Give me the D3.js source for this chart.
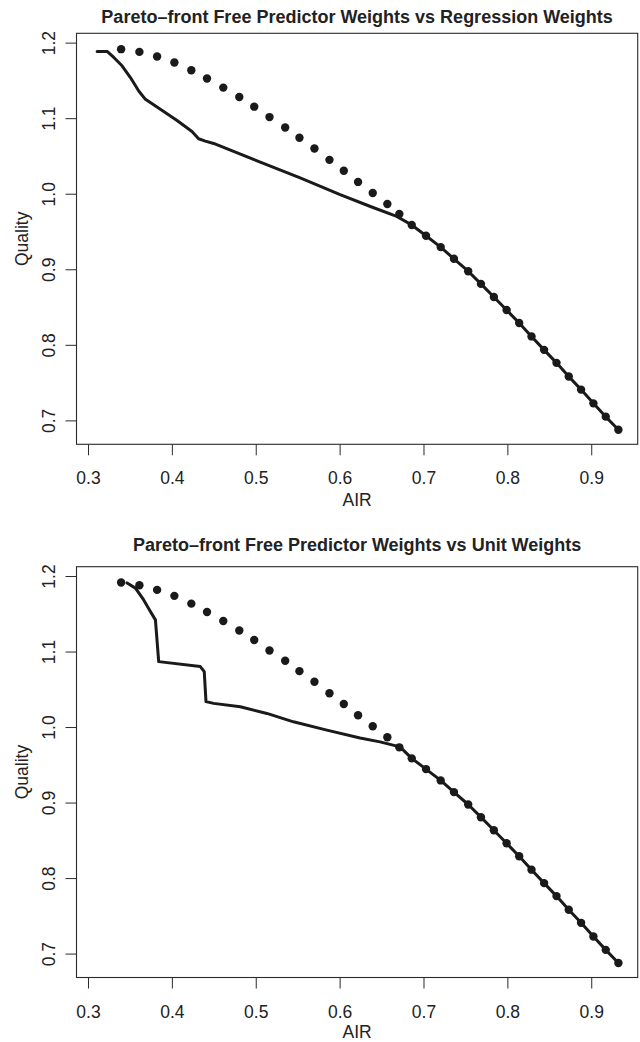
<!DOCTYPE html>
<html>
<head>
<meta charset="utf-8">
<script src="https://cdn.jsdelivr.net/npm/d3@7"></script>
<style>
  body { margin: 0; background: #fff; }
  svg text { font-family: "Liberation Sans", Arial, sans-serif; fill: #222; }
</style>
</head>
<body>
<div id="graph"></div>
<script>
// パレートフロント(点)
const frontAIR = [0.3389, 0.3607, 0.3818, 0.4024, 0.4226, 0.4413, 0.4607, 0.4798, 0.4976, 0.5158,
  0.5345, 0.5515, 0.5694, 0.5873, 0.6044, 0.6214, 0.6389, 0.6563, 0.6706, 0.6854,
  0.7024, 0.7199, 0.7357, 0.7527, 0.7679, 0.7833, 0.7985, 0.8135, 0.8282, 0.8432,
  0.8580, 0.8726, 0.8873, 0.9020, 0.9167, 0.9318];
const frontQuality = [1.1920, 1.1884, 1.1823, 1.1744, 1.1641, 1.1531, 1.1411, 1.1286, 1.1159, 1.1021,
  1.0884, 1.0747, 1.0606, 1.0455, 1.0311, 1.0163, 1.0017, 0.9871, 0.9738, 0.9592,
  0.9450, 0.9300, 0.9145, 0.8981, 0.8813, 0.8640, 0.8467, 0.8295, 0.8118, 0.7940,
  0.7768, 0.7587, 0.7414, 0.7232, 0.7056, 0.6883];

// 回帰ウェイト(線の前半、その後は点と重なる)
const regAIR = [0.3103, 0.3222, 0.3302, 0.3400, 0.3500, 0.3599, 0.3679, 0.3857, 0.4056, 0.4234,
  0.4313, 0.4393, 0.4492, 0.5048, 0.5524, 0.6000, 0.6377, 0.6675];
const regQuality = [1.1890, 1.1890, 1.1810, 1.1700, 1.1544, 1.1367, 1.1256, 1.1125, 1.0975, 1.0830,
  1.0734, 1.0703, 1.0672, 1.0424, 1.0216, 0.9995, 0.9831, 0.9707];

// ユニットウェイト
const unitAIR = [0.3460, 0.3560, 0.3658, 0.3738, 0.3798, 0.3837, 0.4333, 0.4380, 0.4401, 0.4492,
  0.4810, 0.5127, 0.5444, 0.5842, 0.6238, 0.6476, 0.6714];
const unitQuality = [1.1915, 1.1846, 1.1690, 1.1536, 1.1426, 1.0873, 1.0807, 1.0740, 1.0343, 1.0320,
  1.0275, 1.0187, 1.0076, 0.9966, 0.9862, 0.9810, 0.9744];

const xTicks = [0.3, 0.4, 0.5, 0.6, 0.7, 0.8, 0.9];
const yTicks = [0.7, 0.8, 0.9, 1.0, 1.1, 1.2];
const titles = [
  "Pareto\u2013front Free Predictor Weights vs Regression Weights",
  "Pareto\u2013front Free Predictor Weights vs Unit Weights"
];

const width = 640;
const height = 1042;
const left = 76.5;
const right = 637.7;

const svg = d3.select("#graph")
  .append("svg")
  .attr("width", width)
  .attr("height", height);

const x = d3.scaleLinear().domain([0.2857, 0.9548]).range([left, right]);

const front = frontAIR.map((a, i) => ({ x: a, y: frontQuality[i] }));
const tail = front.filter(d => d.x > 0.68);

const panels = [
  { top: 33.3, bottom: 444.3, titleY: 22.7, tickY: 484.3, labelY: 505.5,
    line: regAIR.map((a, i) => ({ x: a, y: regQuality[i] })).concat(tail) },
  { top: 566.7, bottom: 977.5, titleY: 550.7, tickY: 1017.7, labelY: 1038,
    line: unitAIR.map((a, i) => ({ x: a, y: unitQuality[i] })).concat(tail) }
];

panels.forEach((p, k) => {
  const y = d3.scaleLinear().domain([0.669, 1.213]).range([p.bottom, p.top]);
  const g = svg.append("g");

  // 枠
  g.append("rect")
    .attr("x", left).attr("y", p.top)
    .attr("width", right - left).attr("height", p.bottom - p.top)
    .attr("fill", "none").attr("stroke", "#2a2a2a").attr("stroke-width", 1.1);

  // x軸
  g.selectAll(".xt").data(xTicks).enter().append("line")
    .attr("x1", d => x(d)).attr("x2", d => x(d))
    .attr("y1", p.bottom).attr("y2", p.bottom + 11)
    .attr("stroke", "#2a2a2a");
  g.selectAll(".xl").data(xTicks).enter().append("text")
    .attr("x", d => x(d)).attr("y", p.tickY)
    .attr("text-anchor", "middle").attr("font-size", 17.5)
    .text(d => d3.format(".1f")(d));
  g.append("text")
    .attr("x", (left + right) / 2).attr("y", p.labelY)
    .attr("text-anchor", "middle").attr("font-size", 17.5)
    .text("AIR");

  // y軸
  g.selectAll(".yt").data(yTicks).enter().append("line")
    .attr("x1", left - 11).attr("x2", left)
    .attr("y1", d => y(d)).attr("y2", d => y(d))
    .attr("stroke", "#2a2a2a");
  g.selectAll(".yl").data(yTicks).enter().append("text")
    .attr("transform", d => "translate(55," + y(d) + ") rotate(-90)")
    .attr("text-anchor", "middle").attr("font-size", 17.5)
    .text(d => d3.format(".1f")(d));
  g.append("text")
    .attr("transform", "translate(28," + (p.top + p.bottom) / 2 + ") rotate(-90)")
    .attr("text-anchor", "middle").attr("font-size", 17.5)
    .text("Quality");

  // タイトル
  g.append("text")
    .attr("x", (left + right) / 2).attr("y", p.titleY)
    .attr("text-anchor", "middle").attr("font-size", 18).attr("font-weight", "bold")
    .text(titles[k]);

  // 線
  g.append("path")
    .datum(p.line)
    .attr("d", d3.line().x(d => x(d.x)).y(d => y(d.y)))
    .attr("fill", "none").attr("stroke", "#1a1a1a")
    .attr("stroke-width", 3).attr("stroke-linejoin", "round").attr("stroke-linecap", "round");

  // 点
  g.selectAll(".pt").data(front).enter().append("circle")
    .attr("cx", d => x(d.x)).attr("cy", d => y(d.y))
    .attr("r", 4.2).attr("fill", "#1a1a1a");
});
</script>
</body>
</html>
